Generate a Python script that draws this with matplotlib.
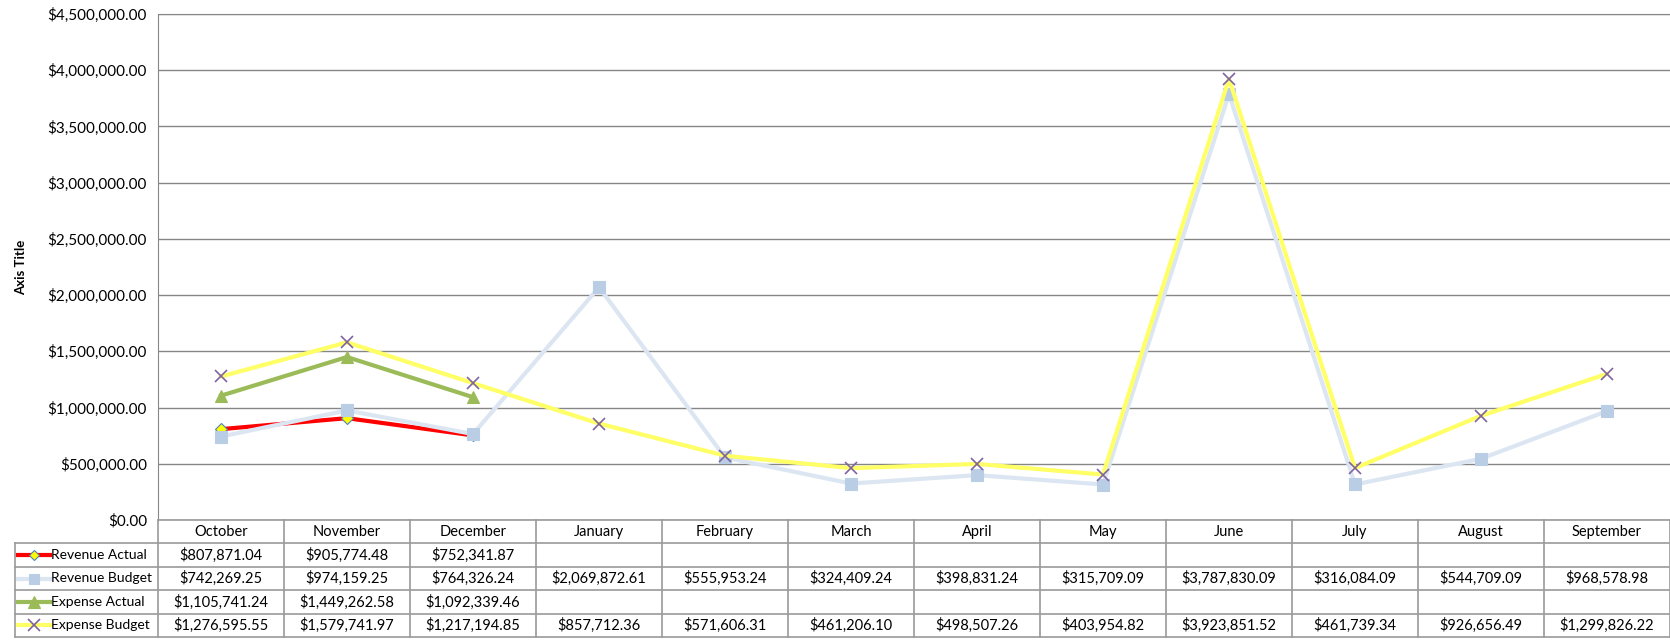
import numpy as np
import matplotlib.pyplot as plt

plt.rcParams['font.family'] = ['Lato', 'DejaVu Sans']

months = ['October', 'November', 'December', 'January', 'February', 'March',
          'April', 'May', 'June', 'July', 'August', 'September']

revenue_actual = [807871.04, 905774.48, 752341.87]
revenue_budget = [742269.25, 974159.25, 764326.24, 2069872.61, 555953.24, 324409.24,
                  398831.24, 315709.09, 3787830.09, 316084.09, 544709.09, 968578.98]
expense_actual = [1105741.24, 1449262.58, 1092339.46]
expense_budget = [1276595.55, 1579741.97, 1217194.85, 857712.36, 571606.31, 461206.10,
                  498507.26, 403954.82, 3923851.52, 461739.34, 926656.49, 1299826.22]

series_names = ['Revenue Actual', 'Revenue Budget', 'Expense Actual', 'Expense Budget']
series_data = [revenue_actual, revenue_budget, expense_actual, expense_budget]

# style per series: line colour, width, marker, face, edge, size
styles = [
    dict(color='#FF0000', lw=3.0, marker='D', mfc='#FFFF00', mec='#4F81BD', ms=6, mew=0.8),
    dict(color='#DCE6F2', lw=3.0, marker='s', mfc='#B9CDE5', mec='#B9CDE5', ms=8, mew=0.8),
    dict(color='#9BBB59', lw=3.0, marker='^', mfc='#9BBB59', mec='#9BBB59', ms=9, mew=0.8),
    dict(color='#FFFF66', lw=3.0, marker='x', mfc='#8064A2', mec='#8064A2', ms=9, mew=1.2),
]

W, H = 1670, 642
fig = plt.figure(figsize=(W / 100, H / 100), dpi=100)

# layout in pixels
plot_left, plot_right = 158, 1670
plot_top, plot_bottom = 14, 520
row_h = 23.4
key_left = 15

ax = fig.add_axes([plot_left / W, 1 - plot_bottom / H,
                   (plot_right - plot_left) / W, (plot_bottom - plot_top) / H])

x = np.arange(len(months))
for name, vals, st in zip(series_names, series_data, styles):
    ax.plot(x[:len(vals)], vals, color=st['color'], lw=st['lw'], marker=st['marker'],
            mfc=st['mfc'], mec=st['mec'], ms=st['ms'], mew=st['mew'], zorder=3)

ax.set_xlim(-0.5, len(months) - 0.5)
ax.set_ylim(0, 4500000)
yt = np.arange(0, 4500001, 500000)
ax.set_yticks(yt)
ax.set_yticklabels(['${:,.2f}'.format(v) for v in yt], fontsize=11)
ax.tick_params(axis='y', length=0, pad=8)
ax.set_xticks([])
ax.grid(axis='y', color='#868686', lw=1.0)
ax.set_axisbelow(True)
for s in ['top', 'left']:
    ax.spines[s].set_color('#868686')
ax.spines['right'].set_visible(False)
ax.spines['bottom'].set_visible(False)
ax.set_ylabel('Axis Title', fontsize=9.5, fontweight='bold', labelpad=15)

# data table below the plot, drawn on an overlay in pixel coordinates
tab = fig.add_axes([0, 0, 1, 1])
tab.set_xlim(0, W)
tab.set_ylim(H, 0)
tab.axis('off')

col_w = (plot_right - plot_left) / len(months)
edges = [plot_left + i * col_w for i in range(len(months) + 1)]
lc = '#9A9A9A'
n_rows = len(series_names)
table_bottom = plot_bottom + row_h * (n_rows + 1)

# horizontal lines
tab.plot([plot_left, plot_right], [plot_bottom, plot_bottom], color=lc, lw=1.2)
for r in range(1, n_rows + 2):
    y = plot_bottom + r * row_h
    tab.plot([key_left, plot_right], [y, y], color=lc, lw=1.2)
# vertical lines
for e in edges:
    tab.plot([e, e], [plot_bottom, table_bottom], color=lc, lw=1.2)
tab.plot([key_left, key_left], [plot_bottom + row_h, table_bottom], color=lc, lw=1.2)

for i, m in enumerate(months):
    tab.text(edges[i] + col_w / 2, plot_bottom + row_h / 2, m, ha='center', va='center', fontsize=10.5)

for r, (name, vals, st) in enumerate(zip(series_names, series_data, styles)):
    yc = plot_bottom + (r + 1.5) * row_h
    tab.plot([18, 50], [yc, yc], color=st['color'], lw=st['lw'])
    tab.plot([34], [yc], marker=st['marker'], mfc=st['mfc'], mec=st['mec'],
             ms=st['ms'] - 1, mew=st['mew'])
    tab.text(51, yc, name, ha='left', va='center', fontsize=10)
    for i, v in enumerate(vals):
        tab.text(edges[i] + col_w / 2, yc, '${:,.2f}'.format(v), ha='center', va='center', fontsize=10.5)

fig.savefig('out.png', dpi=100)
